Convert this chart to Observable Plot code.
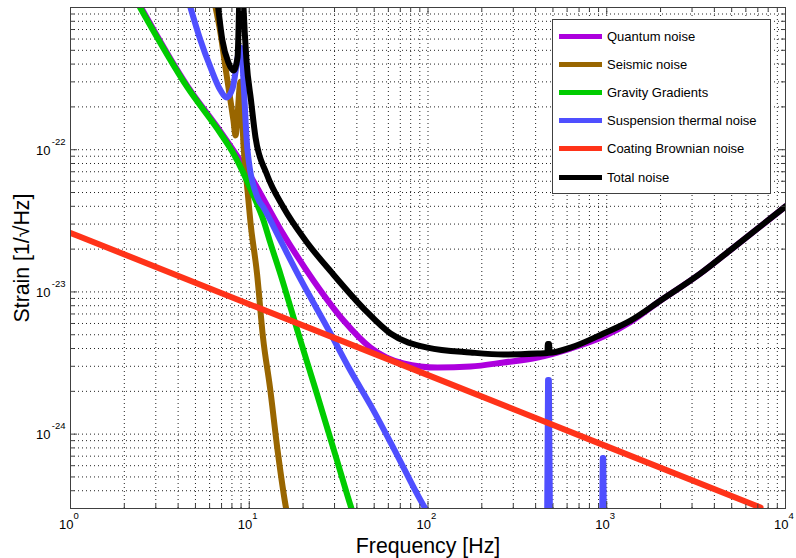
<!DOCTYPE html>
<html><head><meta charset="utf-8">
<script src="https://cdn.jsdelivr.net/npm/d3@7"></script>
<script src="https://cdn.jsdelivr.net/npm/@observablehq/plot@0.6"></script>
<style>
html,body{margin:0;padding:0;background:#fff;}
#wrap{position:relative;width:796px;height:558px;font-family:"Liberation Sans",Arial,sans-serif;}
#legend{position:absolute;left:552px;top:19px;width:217px;height:173px;border:1px solid #404040;background:#fff;}
.row{position:absolute;left:6px;height:20px;display:flex;align-items:center;font-size:13px;color:#000;white-space:nowrap;}
.sw{width:43px;height:5px;margin-right:5px;}
</style></head><body><div id="wrap"></div>
<script>
// ---- data ----
const quantumF = [2.45, 4.51, 6.91, 8.16, 10.16, 14.96, 22.9, 33.7, 47.7, 72.9, 113, 173, 264, 410, 627, 959, 1360, 2000, 3350, 5120, 10000];
const quantumH = [1.03e-21, 2.8e-22, 1.34e-22, 9.9e-23, 6.5e-23, 2.75e-23, 1.2e-23, 6.3e-24, 4.06e-24, 3.14e-24, 2.94e-24, 2.99e-24, 3.19e-24, 3.46e-24, 4.0e-24, 4.85e-24, 6.15e-24, 8.7e-24, 1.35e-23, 2.05e-23, 3.99e-23];

const seismicF = [6.48, 6.91, 7.36, 7.85, 8.16, 8.38, 8.94, 9.29, 9.78, 10.16, 11.05, 11.94, 13.06, 14.48, 16.04, 16.2];
const seismicH = [1.0e-21, 6.56e-22, 3.79e-22, 2.22e-22, 1.6e-22, 1.26e-22, 3.0e-22, 1.07e-22, 5.16e-23, 3.08e-23, 1.35e-23, 4.78e-24, 2.13e-24, 7.31e-25, 3.05e-25, 2.85e-25];

const gravityF = [2.45, 4.51, 6.91, 8.16, 10.43, 12.02, 13.1, 14.96, 18.6, 23.5, 30.4, 37.3, 38.3];
const gravityH = [1.0e-21, 2.74e-22, 1.30e-22, 9.4e-23, 4.92e-23, 3.18e-23, 2.23e-23, 1.33e-23, 5.35e-24, 2.06e-24, 7.07e-25, 3.0e-25, 2.7e-25];

const suspF = [4.69, 5.34, 6.07, 6.91, 7.46, 8.06, 8.94, 9.78, 11.12, 12.02, 14.96, 18.6, 28.5, 36.8, 49.5, 67.4, 94.4, 100];
const suspH = [1.0e-21, 5.86e-22, 3.79e-22, 2.61e-22, 2.33e-22, 2.69e-22, 5.24e-22, 9.87e-23, 4.61e-23, 3.92e-23, 2.30e-23, 1.35e-23, 5.1e-24, 2.8e-24, 1.47e-24, 7.07e-25, 3.15e-25, 2.8e-25];
const violin1F = [464, 469.5, 474.5, 481];
const violin1H = [2.5e-25, 2.4e-24, 2.4e-24, 2.5e-25];
const violin2F = [942, 950, 956, 964];
const violin2H = [2.5e-25, 6.8e-25, 6.8e-25, 2.5e-25];

const coatingF = [1, 10, 100, 1000, 7250];
const coatingH = [2.6e-23, 8.2e-24, 2.6e-24, 8.2e-25, 3.05e-25];

const totalF = [6.7, 7.08, 7.65, 8.16, 8.6, 8.77, 8.88, 9.11, 9.29, 9.65, 10.23, 10.84, 12.49, 15.55, 20.64, 29.2, 44.2, 61.7, 99.4, 173, 264.5, 410, 466, 468, 476, 478, 627, 959, 1358, 1999, 3346, 5117, 10000];
const totalH = [1.0e-21, 5.86e-22, 4.1e-22, 3.6e-22, 4.45e-22, 1.0e-21, 2.0e-21, 2.0e-21, 1.0e-21, 4.24e-22, 2.22e-22, 1.22e-22, 6.8e-23, 3.92e-23, 2.30e-23, 1.35e-23, 7.52e-24, 5.10e-24, 4.06e-24, 3.75e-24, 3.63e-24, 3.69e-24, 3.72e-24, 4.3e-24, 4.3e-24, 3.74e-24, 4.06e-24, 5.1e-24, 6.29e-24, 8.7e-24, 1.35e-23, 2.05e-23, 3.99e-23];

const seriesNames = ["Quantum noise", "Seismic noise", "Gravity Gradients", "Suspension thermal noise", "Coating Brownian noise", "Total noise"];
const seriesColors = ["#ad00de", "#996600", "#00cc00", "#4f4fff", "#ff3319", "#000000"];

const xTicks = [1, 10, 100, 1000, 10000];
const xTickExp = ["0", "1", "2", "3", "4"];
const yTicks = [1e-24, 1e-23, 1e-22];
const yTickExp = ["-24", "-23", "-22"];
const tickBase = "10";
const xTitle = "Frequency [Hz]";
const yTitle = "Strain [1/\u221AHz]";

// ---- layout ----
const W = 796, H = 558, mL = 70, mR = 11, mT = 7, mB = 50;
const fw = W - mL - mR, fh = H - mT - mB;
const xDomain = [1, 1e4], yDomain = [3e-25, 1e-21];

const rows = (f, h) => f.map((v, i) => ({f: v, h: h[i]}));

const xMinor = [];
for (const d of [1, 10, 100, 1000]) for (let k = 2; k <= 9; k++) xMinor.push(d * k);
const yMinor = [];
for (const d of [1e-25, 1e-24, 1e-23, 1e-22]) for (let k = 2; k <= 9; k++) {
  const v = d * k; if (v > yDomain[0] * 1.001 && v < yDomain[1] * 0.999) yMinor.push(v);
}
const xGrid = xMinor.concat([10, 100, 1000]);
const yGrid = yMinor.concat(yTicks);

const axisColor = "#404040";
const gridStyle = {stroke: "#222", strokeWidth: 1, strokeDasharray: "1,3"};
const lineStyle = {x: "f", y: "h", strokeWidth: 6, clip: true, strokeLinejoin: "round", strokeLinecap: "round"};

const seriesData = [
  [rows(quantumF, quantumH)],
  [rows(seismicF, seismicH)],
  [rows(gravityF, gravityH)],
  [rows(suspF, suspH), rows(violin1F, violin1H), rows(violin2F, violin2H)],
  [rows(coatingF, coatingH)],
  [rows(totalF, totalH)]
];

const lineMarks = [];
seriesData.forEach((parts, si) => {
  parts.forEach((d, pi) => {
    lineMarks.push(Plot.line(d, {...lineStyle, stroke: seriesColors[si], curve: pi === 0 ? "monotone-x" : "linear"}));
  });
});

const xLab = xTicks.map((v, i) => ({v, e: xTickExp[i]}));
const yLab = yTicks.map((v, i) => ({v, e: yTickExp[i]}));

const chart = Plot.plot({
  width: W, height: H,
  marginLeft: mL, marginRight: mR, marginTop: mT, marginBottom: mB,
  x: {type: "log", domain: xDomain, axis: null},
  y: {type: "log", domain: yDomain, axis: null},
  style: {fontFamily: "'Liberation Sans', Arial, sans-serif", background: "white", overflow: "visible", color: "#000"},
  marks: [
    Plot.ruleX(xGrid, gridStyle),
    Plot.ruleY(yGrid, gridStyle),
    ...lineMarks,
    // ticks (inward, all four sides)
    Plot.ruleX(xTicks, {stroke: axisColor, insetTop: fh - 7}),
    Plot.ruleX(xTicks, {stroke: axisColor, insetBottom: fh - 7}),
    Plot.ruleX(xMinor, {stroke: axisColor, insetTop: fh - 4}),
    Plot.ruleX(xMinor, {stroke: axisColor, insetBottom: fh - 4}),
    Plot.ruleY(yTicks, {stroke: axisColor, insetRight: fw - 7}),
    Plot.ruleY(yTicks, {stroke: axisColor, insetLeft: fw - 7}),
    Plot.ruleY(yMinor, {stroke: axisColor, insetRight: fw - 4}),
    Plot.ruleY(yMinor, {stroke: axisColor, insetLeft: fw - 4}),
    Plot.frame({stroke: axisColor}),
    // tick labels
    Plot.text(xLab, {x: "v", text: () => tickBase, frameAnchor: "bottom", dx: 3, dy: 20, textAnchor: "end", lineAnchor: "bottom", fontSize: 13, fill: "#000"}),
    Plot.text(xLab, {x: "v", text: "e", frameAnchor: "bottom", dx: 3, dy: 10, textAnchor: "start", lineAnchor: "bottom", fontSize: 9.5, fill: "#000"}),
    Plot.text(yLab, {y: "v", text: () => tickBase, frameAnchor: "left", dx: -20, dy: 5, textAnchor: "end", lineAnchor: "bottom", fontSize: 13, fill: "#000"}),
    Plot.text(yLab, {y: "v", text: "e", frameAnchor: "left", dx: -5, dy: -5, textAnchor: "end", lineAnchor: "bottom", fontSize: 9.5, fill: "#000"}),
    // axis titles
    Plot.text([xTitle], {text: d => d, frameAnchor: "bottom", dy: 44, lineAnchor: "bottom", textAnchor: "middle", fontSize: 21.3, fill: "#000"}),
    Plot.text([yTitle], {text: d => d, frameAnchor: "left", rotate: -90, dx: -42, lineAnchor: "bottom", textAnchor: "middle", fontSize: 21.3, fill: "#000"})
  ]
});

const wrap = document.getElementById("wrap");
wrap.appendChild(chart);

// legend
const legend = document.createElement("div");
legend.id = "legend";
seriesNames.forEach((name, i) => {
  const row = document.createElement("div");
  row.className = "row";
  row.style.top = (16 + i * 28.2 - 10) + "px";
  const sw = document.createElement("div");
  sw.className = "sw";
  sw.style.background = seriesColors[i];
  const t = document.createElement("span");
  t.textContent = name;
  row.appendChild(sw); row.appendChild(t);
  legend.appendChild(row);
});
wrap.appendChild(legend);
</script></body></html>
